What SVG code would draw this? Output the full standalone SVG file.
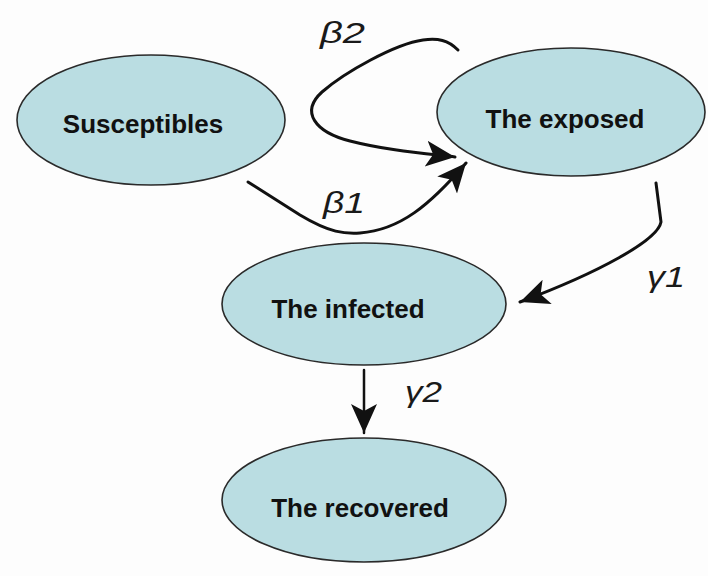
<svg xmlns="http://www.w3.org/2000/svg" width="708" height="576" viewBox="0 0 708 576">
<defs>
<style>
.node ellipse{fill:#badde2;stroke:#2a2a2a;stroke-width:1.6}
.node text{font-family:"Liberation Sans",Arial,sans-serif;font-weight:bold;font-size:26px;fill:#111;text-anchor:middle}
.edge{fill:none;stroke:#111;stroke-width:3;stroke-linecap:round;stroke-linejoin:round}
.lbl{font-family:"Liberation Sans",Arial,sans-serif;font-style:italic;font-size:30px;fill:#1a1a1a}
</style>
<marker id="ah" markerUnits="userSpaceOnUse" markerWidth="32" markerHeight="28" refX="29" refY="13" orient="auto">
<path d="M0,0 L29,13 L0,26 L7,13 Z" fill="#111"/>
</marker>
</defs>
<rect width="708" height="576" fill="#fdfdfd"/>
<g id="susceptibles" class="node">
<ellipse cx="151" cy="120" rx="134" ry="65"/>
<text x="143" y="133">Susceptibles</text>
</g>
<g id="exposed" class="node">
<ellipse cx="571" cy="112" rx="134" ry="64"/>
<text x="565" y="128">The exposed</text>
</g>
<g id="infected" class="node">
<ellipse cx="364" cy="304" rx="142" ry="61"/>
<text x="348" y="318">The infected</text>
</g>
<g id="recovered" class="node">
<ellipse cx="364" cy="500" rx="142" ry="62"/>
<text x="360" y="517">The recovered</text>
</g>
<g id="connectors">
<path class="edge" marker-end="url(#ah)" d="M458,50 C448,40 438,38 423,40 C395,44 345,72 322,92 C300,112 315,132 350,141 C385,150 420,153 455,157"/>
<path class="edge" marker-end="url(#ah)" d="M248,182 L300,215 C330,233 345,234 360,233 C400,230 430,205 466,163"/>
<path class="edge" marker-end="url(#ah)" d="M656,183 L661,222 C658,240 600,272 520,302"/>
<path class="edge" marker-end="url(#ah)" d="M364,370 L364,433" style="stroke-width:2.5"/>
<text class="lbl" x="320" y="43" textLength="45" lengthAdjust="spacingAndGlyphs">β2</text>
<text class="lbl" x="323" y="213" textLength="42" lengthAdjust="spacingAndGlyphs">β1</text>
<text class="lbl" x="647" y="287" textLength="38" lengthAdjust="spacingAndGlyphs">γ1</text>
<text class="lbl" x="405" y="402" textLength="37" lengthAdjust="spacingAndGlyphs">γ2</text>
</g>
</svg>
